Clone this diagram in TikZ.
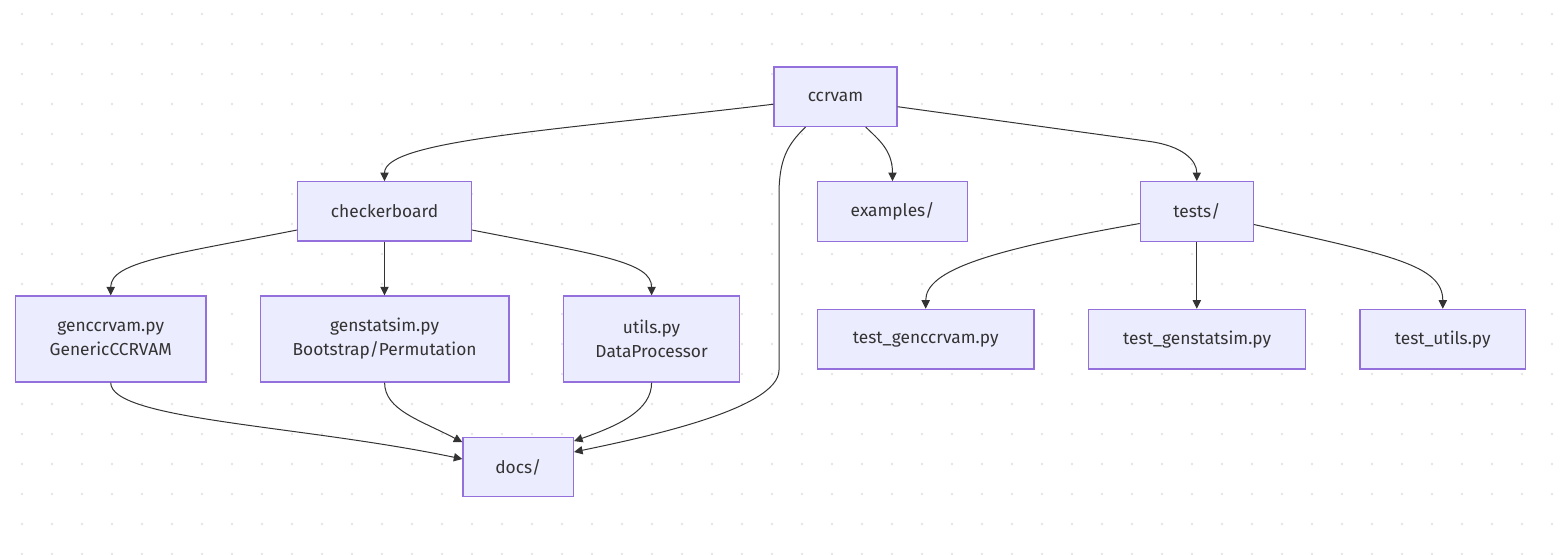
\documentclass[tikz,border=0pt]{standalone}
\usepackage{fontspec}
\setmainfont{Fira Sans}
\usetikzlibrary{arrows.meta,calc}
\definecolor{nodefill}{HTML}{ECECFF}
\definecolor{nodeline}{HTML}{9370DB}
\definecolor{edgecol}{HTML}{333333}
\definecolor{textcol}{HTML}{333333}
\definecolor{dotcol}{HTML}{E4E4E4}
\begin{document}
\begin{tikzpicture}[x=0.75pt,y=-0.75pt,
  box/.style={draw=nodeline, fill=nodefill, line width=0.9pt, text=textcol,
    font=\fontsize{13}{18}\selectfont, align=center, inner sep=0pt},
  sz/.style 2 args={minimum width=#1*0.75pt, minimum height=#2*0.75pt},
  edge/.style={draw=edgecol, line width=0.75pt, -{Triangle[length=6.4pt,width=6.2pt]}}]
\useasboundingbox (0,0) rectangle (1563,554);
\foreach \i in {0,...,51}{\foreach \j in {0,...,18}{\fill[dotcol] (22+30*\i,14+30*\j) circle[radius=1.1pt];}}

\node[box,sz={123}{59.5}] (ccrvam) at (835.5,96.7) {ccrvam};
\node[box,sz={173.6}{59.3}] (checkerboard) at (384.5,211.4) {checkerboard};
\node[box,sz={149.6}{59.6}] (examples) at (892.5,211.5) {examples/};
\node[box,sz={113}{59.6}] (tests) at (1196.8,211.5) {tests/};
\node[box,sz={190.6}{86}] (genccrvam) at (110.7,339) {genccrvam.py\\GenericCCRVAM};
\node[box,sz={248.8}{86}] (genstatsim) at (384.6,339) {genstatsim.py\\Bootstrap/Permutation};
\node[box,sz={176.5}{86}] (utils) at (651.6,339) {utils.py\\DataProcessor};
\node[box,sz={110.5}{59.4}] (docs) at (518.2,467) {docs/};
\node[box,sz={216.7}{59.7}] (tgen) at (925.7,339.2) {test\_genccrvam.py};
\node[box,sz={217}{59.7}] (tstat) at (1197.2,339.2) {test\_genstatsim.py};
\node[box,sz={165.7}{59.7}] (tutil) at (1442.8,339.2) {test\_utils.py};

\draw[edge] ($(ccrvam.west)+(0,7.5)$) .. controls (560,130) and (384.5,140) .. (checkerboard.north);
\draw[edge] ($(ccrvam.south)+(30.2,0)$) .. controls (878,139) and (892.5,150) .. (examples.north);
\draw[edge] ($(ccrvam.east)+(0,10)$) -- (1150,141.5) .. controls (1182,146) and (1196.8,160) .. (tests.north);
\draw[edge] ($(ccrvam.south)+(-30,0)$) .. controls (787,145) and (779,160) .. (779,195) -- (779,370) .. controls (779,410) and (636,439) .. ($(docs.east)+(0,-15)$);
\draw[edge] ($(checkerboard.west)+(0,18.6)$) .. controls (170,255) and (110.7,262) .. (genccrvam.north);
\draw[edge] (checkerboard.south) -- (checkerboard.south |- genstatsim.north);
\draw[edge] ($(checkerboard.east)+(0,18.6)$) .. controls (600,255) and (651.6,262) .. (utils.north);
\draw[edge] ($(tests.west)+(0,12)$) .. controls (990,250) and (925.7,270) .. (tgen.north);
\draw[edge] (tests.south) -- (tests.south |- tstat.north);
\draw[edge] ($(tests.east)+(0,13)$) .. controls (1390,255) and (1442.8,265) .. (tutil.north);
\draw[edge] (genccrvam.south) .. controls (110.7,420) and (300,425) .. ($(docs.west)+(0,-8)$);
\draw[edge] (genstatsim.south) .. controls (384.6,410) and (420,420) .. ($(docs.north west)+(0,5.5)$);
\draw[edge] (utils.south) .. controls (651.6,410) and (620,425) .. ($(docs.north east)+(0,4.4)$);
\end{tikzpicture}
\end{document}
